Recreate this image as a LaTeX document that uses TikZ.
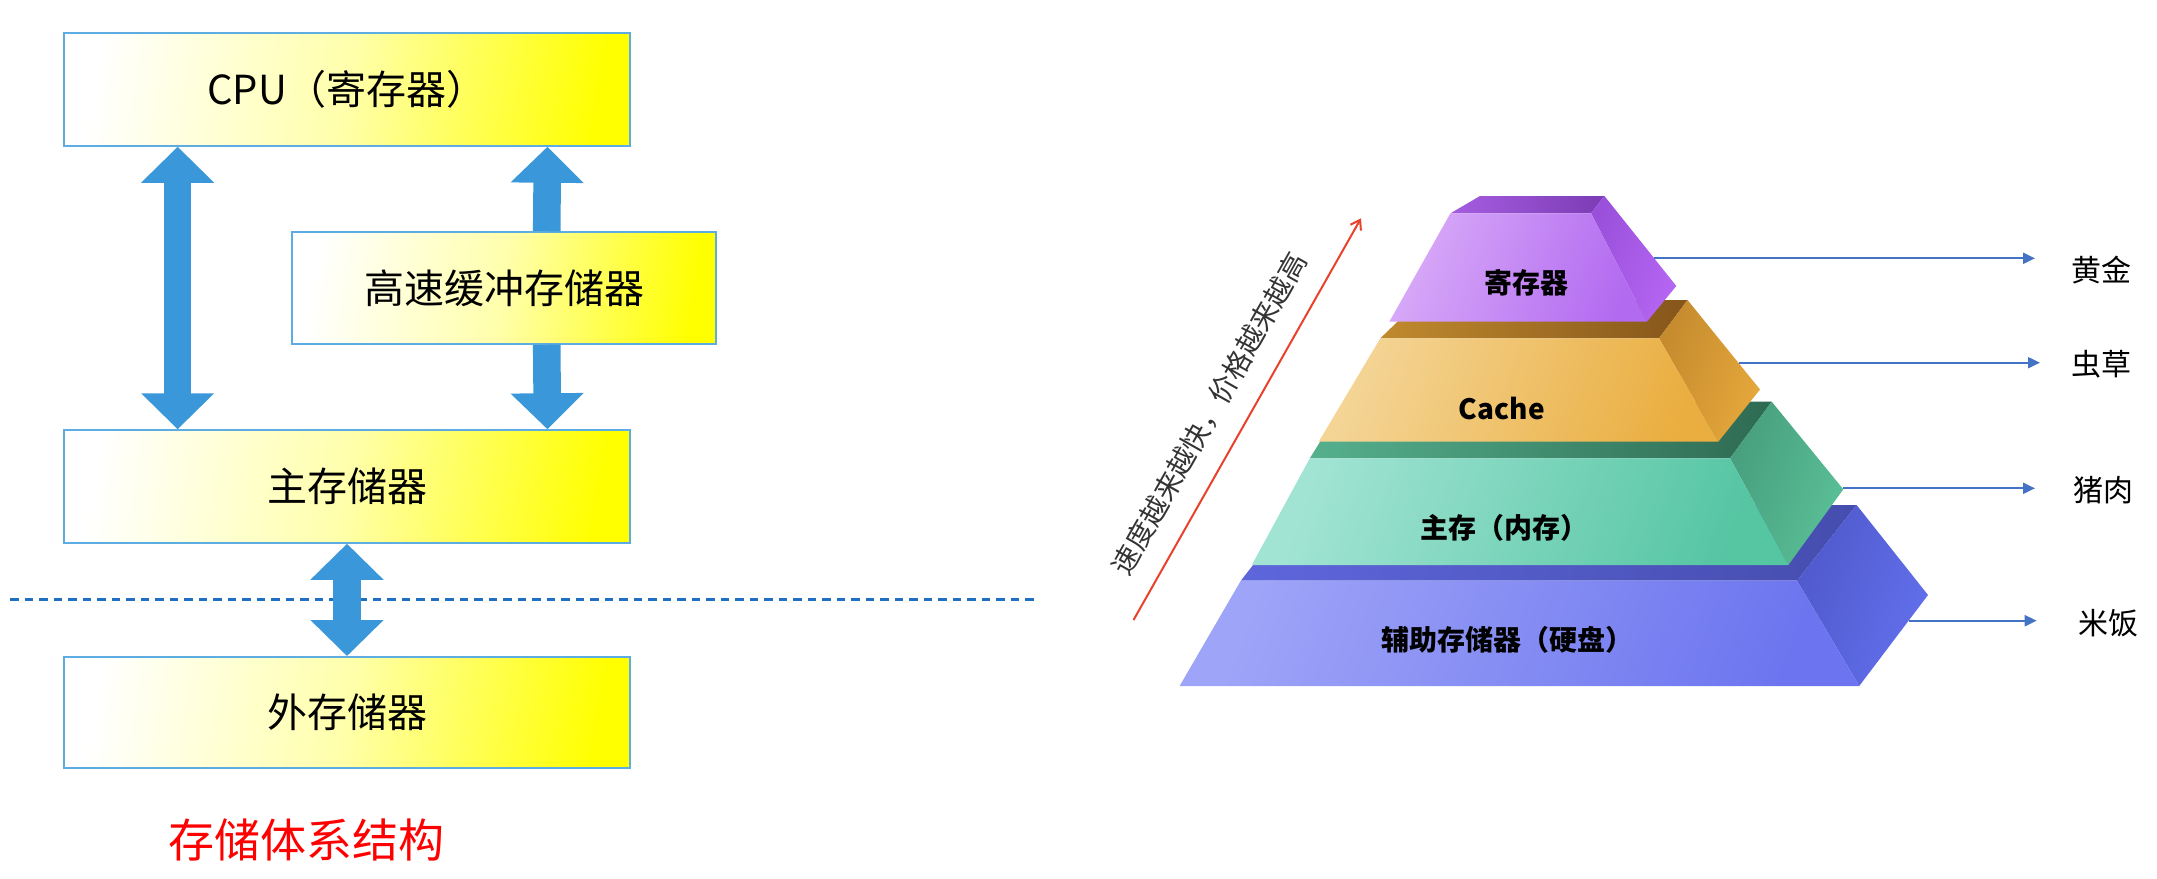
\documentclass[tikz,border=0pt]{standalone}
\usepackage{fontspec}
\setmainfont{Noto Sans CJK SC}
\usepackage{tikz}
\usetikzlibrary{arrows.meta}

\definecolor{boxline}{HTML}{5DADE2}
\definecolor{fatblue}{HTML}{3A98DA}
\definecolor{sepblue}{HTML}{1F70C1}
\definecolor{lineblue}{HTML}{4472C4}
\definecolor{upred}{HTML}{E8412C}
\definecolor{slanttext}{HTML}{333333}
% pyramid layers: front (A,B), top (T1,T2), side (S1,S2)
\definecolor{pA}{HTML}{D8AAF8}\definecolor{pB}{HTML}{B26AF0}
\definecolor{pT1}{HTML}{A55DE0}\definecolor{pT2}{HTML}{7C3CB5}
\definecolor{pS1}{HTML}{9A50DA}\definecolor{pS2}{HTML}{B566F3}
\definecolor{oA}{HTML}{F4D596}\definecolor{oB}{HTML}{EAAE40}
\definecolor{oT1}{HTML}{C08A2E}\definecolor{oT2}{HTML}{85561A}
\definecolor{oS1}{HTML}{C48A2E}\definecolor{oS2}{HTML}{E6A83B}
\definecolor{gA}{HTML}{A2E4D4}\definecolor{gB}{HTML}{55C5A2}
\definecolor{gT1}{HTML}{55B08E}\definecolor{gT2}{HTML}{2E6A52}
\definecolor{gS1}{HTML}{479E7E}\definecolor{gS2}{HTML}{5AC097}
\definecolor{bA}{HTML}{9EA4F7}\definecolor{bB}{HTML}{6C75EF}
\definecolor{bT1}{HTML}{5E66DC}\definecolor{bT2}{HTML}{454DAE}
\definecolor{bS1}{HTML}{5059CC}\definecolor{bS2}{HTML}{6270EC}

\begin{document}
\begin{tikzpicture}[x=1pt,y=-1pt,
	membox/.style={draw=boxline,line width=1.5pt,top color=white,bottom color=yellow,middle color=yellow!33,shading angle=81,minimum width=566pt,minimum height=113pt,inner sep=0pt,font=\fontsize{40pt}{48pt}\selectfont},
	fathead/.tip={Triangle[length=36pt,width=71pt]},
	fatline/.style={draw=fatblue,line width=27.6pt},
	face/.style 2 args={top color=#1,bottom color=#2,shading angle=70},
	sface/.style 2 args={left color=#1,right color=#2},
	layerlbl/.style={font=\fontsize{28pt}{34pt}\selectfont\bfseries},
	pricelbl/.style={font=\fontsize{30pt}{36pt}\selectfont},
	pricearrow/.style={lineblue,line width=2pt,-{Triangle[length=12pt,width=11pt]}}
]
	\useasboundingbox (0,0) rectangle (2157,878);
	% left: storage hierarchy boxes
	\draw[sepblue,line width=3pt,dash pattern=on 8.7pt off 5.8pt] (10,599.3) -- (1034,599.3);
	\node[membox] (cpu) at (347,89.5) {CPU（寄存器）};
	\node[membox,minimum width=424pt,minimum height=112pt] (cache) at (504,288) {高速缓冲存储器};
	\node[membox] (main) at (347,486.5) {主存储器};
	\node[membox,minimum height=111pt] (ext) at (347,712.3) {外存储器};
	\draw[fatline,fathead-fathead] ([xshift=114.4pt]cpu.south west) -- ([xshift=114.4pt]main.north west);
	\draw[fatline,fathead-] ([xshift=-83.3pt]cpu.south east) -- ([xshift=42.7pt]cache.north);
	\draw[fatline,-fathead] ([xshift=42.7pt]cache.south) -- ([xshift=-83.3pt]main.north east);
	\draw[fatline,fathead-fathead] (main) -- (ext);
	\node[text=red,font=\fontsize{46pt}{55pt}\selectfont] (title) at (306.5,840) {存储体系结构};

	% right: pyramid, bottom layer first
	\shade[sface={bT1}{bT2}] (1240.8,580.7) -- (1797,580.7) -- (1856.6,505) -- (1300,505) -- cycle;
	\shade[face={bS1}{bS2}] (1797,580.7) -- (1856.6,505) -- (1928,595) -- (1859.2,686) -- cycle;
	\shade[face={bA}{bB}] (1179.6,686) -- (1240.8,580.7) -- (1797,580.7) -- (1859.2,686) -- cycle;

	\shade[sface={gT1}{gT2}] (1309.8,458.3) -- (1730,458.3) -- (1771.7,401.7) -- (1345,401.7) -- cycle;
	\shade[face={gS1}{gS2}] (1730,458.3) -- (1771.7,401.7) -- (1843.3,489.3) -- (1788.3,565) -- cycle;
	\shade[face={gA}{gB}] (1251.8,565) -- (1309.8,458.3) -- (1730,458.3) -- (1788.3,565) -- cycle;

	\shade[sface={oT1}{oT2}] (1380.3,338.3) -- (1659,338.3) -- (1687.5,300) -- (1420,300) -- cycle;
	\shade[face={oS1}{oS2}] (1659,338.3) -- (1687.5,300) -- (1760,389.5) -- (1718.3,441.7) -- cycle;
	\shade[face={oA}{oB}] (1318.7,441.7) -- (1380.3,338.3) -- (1659,338.3) -- (1718.3,441.7) -- cycle;

	\shade[sface={pT1}{pT2}] (1450.4,213.3) -- (1591,213.3) -- (1604.4,196) -- (1480,196) -- cycle;
	\shade[face={pS1}{pS2}] (1591,213.3) -- (1604.4,196) -- (1676.3,286) -- (1646.8,321.7) -- cycle;
	\shade[face={pA}{pB}] (1389.3,321.7) -- (1450.4,213.3) -- (1591,213.3) -- (1646.8,321.7) -- cycle;

	\node[layerlbl] (reg) at (1526.3,283.3) {寄存器};
	\node[layerlbl] (cachelbl) at (1501.8,408.3) {Cache};
	\node[layerlbl] (mainlbl) at (1504,528.3) {主存（内存）};
	\node[layerlbl] (disklbl) at (1507,640) {辅助存储器（硬盘）};

	% speed / price arrow
	\coordinate (rs) at (1133.5,620);
	\coordinate (re) at (1361,218.3);
	\draw[upred,line width=2pt,-{Straight Barb[length=9pt,width=12pt]}] (rs) -- (re)
		node[pos=0.47,sloped,above=18pt,text=slanttext,font=\fontsize{28pt}{34pt}\selectfont] (slogan) {速度越来越快，价格越来越高};

	% price labels
	\foreach \n/\xs/\ys/\xt/\txt/\xl/\yl in {gold/1653.5/258.3/2035/黄金/2101.7/270,
		herb/1739/362.7/2040/虫草/2101.7/364.3,
		pork/1843.3/488.3/2035/猪肉/2103/490,
		rice/1909/620.7/2036.7/米饭/2108.3/622.7}
	{
		\coordinate (\n-s) at (\xs,\ys);
		\coordinate (\n-t) at (\xt,\ys);
		\node[pricelbl] (\n) at (\xl,\yl) {\txt};
		\draw[pricearrow] (\n-s) -- (\n-t);
	}
\end{tikzpicture}
\end{document}
